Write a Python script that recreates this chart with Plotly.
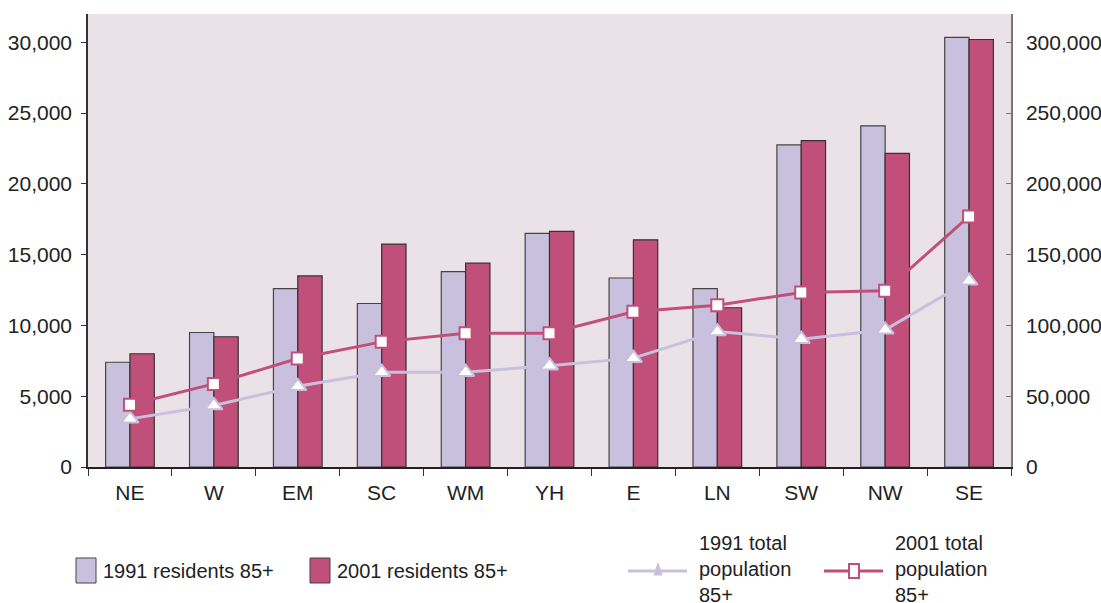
import plotly.graph_objects as go

regions = ["NE", "W", "EM", "SC", "WM", "YH", "E", "LN", "SW", "NW", "SE"]
res_1991 = [7400, 9500, 12600, 11550, 13800, 16500, 13350, 12600, 22750, 24100, 30350]
res_2001 = [8000, 9200, 13500, 15750, 14400, 16650, 16050, 11250, 23050, 22150, 30200]
pop_1991 = [34000, 43500, 57000, 67000, 67000, 71600, 76900, 95700, 90300, 96900, 131500]
pop_2001 = [44000, 58700, 76600, 88400, 94500, 94500, 109600, 114300, 123300, 124500, 177000]

left_ticks = [0, 5000, 10000, 15000, 20000, 25000, 30000]
right_ticks = [0, 50000, 100000, 150000, 200000, 250000, 300000]

LAV = "#c9c0de"
PINK = "#c0507a"
BG = "#ebe2e8"
FONT = "Liberation Sans Narrow, Arial Narrow, Liberation Sans, Arial, sans-serif"
TXT = "#222222"
TICK_SIZE = 21
LEG_SIZE = 20

W, H = 1101, 603
L, R, T, B = 88, 1011, 14, 467

fig = go.Figure()
fig.add_bar(x=regions, y=res_1991, name="1991 residents 85+",
            marker=dict(color=LAV, line=dict(color="#444444", width=1.2)))
fig.add_bar(x=regions, y=res_2001, name="2001 residents 85+",
            marker=dict(color=PINK, line=dict(color="#333333", width=1.2)))
fig.add_scatter(x=regions, y=pop_1991, yaxis="y2", name="1991 total population 85+",
                mode="lines+markers", line=dict(color=LAV, width=3),
                marker=dict(symbol="triangle-up", size=15, color="white",
                            line=dict(color=LAV, width=2)))
fig.add_scatter(x=regions, y=pop_2001, yaxis="y2", name="2001 total population 85+",
                mode="lines+markers", line=dict(color=PINK, width=3),
                marker=dict(symbol="square", size=12, color="white",
                            line=dict(color=PINK, width=2)))


def px(x):
    return (x - L) / (R - L)


def py(y):
    return (B - y) / (B - T)


shapes = []
annotations = []
# bar legend boxes
for x0, col, label in [(76, LAV, "1991 residents 85+"), (310, PINK, "2001 residents 85+")]:
    shapes.append(dict(type="rect", xref="paper", yref="paper",
                       x0=px(x0), x1=px(x0 + 20), y0=py(583), y1=py(558),
                       fillcolor=col, line=dict(color="#444444", width=1)))
    annotations.append(dict(xref="paper", yref="paper", x=px(x0 + 25), y=py(571),
                            xanchor="left", yanchor="middle", showarrow=False,
                            text=label, font=dict(family=FONT, size=LEG_SIZE, color=TXT)))
# line legend
shapes.append(dict(type="line", xref="paper", yref="paper", x0=px(628), x1=px(687),
                   y0=py(571), y1=py(571), line=dict(color=LAV, width=3)))
shapes.append(dict(type="path", xref="paper", yref="paper",
                   path="M {} {} L {} {} L {} {} Z".format(px(654), py(575), px(662), py(575), px(658), py(563)),
                   fillcolor=LAV, line=dict(color=LAV, width=1)))
shapes.append(dict(type="line", xref="paper", yref="paper", x0=px(824), x1=px(883),
                   y0=py(571), y1=py(571), line=dict(color=PINK, width=3)))
shapes.append(dict(type="rect", xref="paper", yref="paper", x0=px(849), x1=px(859),
                   y0=py(578), y1=py(564), fillcolor="white", line=dict(color=PINK, width=2)))
for x0, label in [(697, "1991 total<br>population<br>85+"), (893, "2001 total<br>population<br>85+")]:
    annotations.append(dict(xref="paper", yref="paper", x=px(x0), y=py(530),
                            xanchor="left", yanchor="top", showarrow=False, align="left",
                            text=label, font=dict(family=FONT, size=LEG_SIZE, color=TXT)))

fig.update_layout(
    width=W, height=H, autosize=False,
    margin=dict(l=L, r=W - R, t=T, b=H - B, pad=0, autoexpand=False),
    paper_bgcolor="white", plot_bgcolor=BG,
    barmode="group", bargap=0.42, bargroupgap=0,
    showlegend=False,
    font=dict(family=FONT, size=TICK_SIZE, color=TXT),
    xaxis=dict(type="category", range=[-0.5, 10.5], tickson="boundaries",
               ticks="outside", ticklen=7, tickcolor="#333333", tickwidth=1.2,
               ticklabelstandoff=6, automargin=False,
               showline=True, linecolor="#222222", linewidth=2, showgrid=False,
               tickfont=dict(family=FONT, size=TICK_SIZE, color=TXT)),
    yaxis=dict(range=[0, 32000], tickvals=left_ticks, tickformat=",",
               ticks="outside", ticklen=5, tickcolor="#333333",
               ticklabelstandoff=5, automargin=False,
               showline=True, linecolor="#333333", linewidth=1.5,
               showgrid=False, zeroline=False,
               tickfont=dict(family=FONT, size=TICK_SIZE, color=TXT)),
    yaxis2=dict(range=[0, 320000], tickvals=right_ticks, tickformat=",",
                overlaying="y", side="right", anchor="x",
                ticks="inside", ticklen=5, tickcolor="#777777",
                ticklabelstandoff=9, automargin=False,
                showline=True, linecolor="#777777", linewidth=1.5,
                showgrid=False, zeroline=False,
                tickfont=dict(family=FONT, size=TICK_SIZE, color=TXT)),
    shapes=shapes, annotations=annotations,
)

post = (
    "document.body.style.margin='0';"
    "document.body.style.overflow='hidden';"
)
fig.write_html("out.html", config={"responsive": False, "displayModeBar": False},
               post_script=post)
